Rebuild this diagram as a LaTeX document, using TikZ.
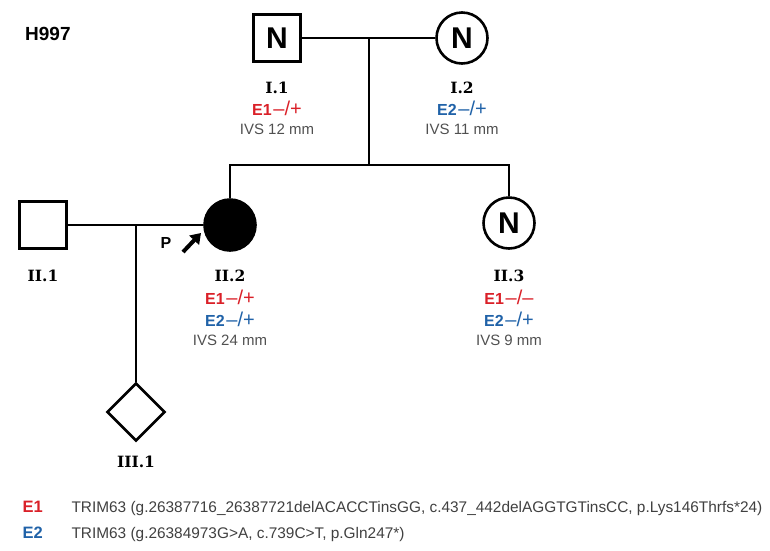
\documentclass[tikz,border=0pt]{standalone}
\usepackage{fontspec}
\setmainfont{Liberation Sans}
\newfontfamily\idfont{DejaVu Serif}
\usetikzlibrary{shapes.geometric,arrows.meta}
\definecolor{eone}{RGB}{218,32,40}
\definecolor{etwo}{RGB}{32,98,168}
\definecolor{ivsgray}{RGB}{80,80,80}
% genotype: bold variant key followed by the allele pair
\newcommand{\gtype}[2]{{\bfseries\fontsize{16}{16}\selectfont #1}\,{\fontsize{20}{20}\selectfont #2}}
\begin{document}
\begin{tikzpicture}[x=1pt,y=-1pt,
  line/.style={line width=2.6pt},
  male/.style={draw,rectangle,line width=3pt,minimum size=47pt,inner sep=0pt,
    font=\bfseries\fontsize{30}{30}\selectfont},
  female/.style={draw,circle,line width=2.6pt,minimum size=51pt,inner sep=0pt,
    font=\bfseries\fontsize{30}{30}\selectfont},
  unknown/.style={draw,diamond,line width=2.6pt,minimum size=58pt,inner sep=0pt},
  idlabel/.style={font=\idfont\bfseries\fontsize{15.5}{15.5}\selectfont},
  geno/.style={inner sep=1pt},
  ivs/.style={text=ivsgray,font=\fontsize{15}{15}\selectfont},
  legend/.style={anchor=base west,font=\fontsize{15.4}{15.4}\selectfont,text=black!75},
  legendkey/.style={anchor=base west,font=\bfseries\fontsize{16.5}{16.5}\selectfont}]
\useasboundingbox (0,0) rectangle (770,550);

% family title
\node[anchor=base west,inner sep=0pt,font=\bfseries\fontsize{19}{19}\selectfont] (title) at (25,40) {H997};

% generation I
\node[male] (I1) at (277,38) {N};
\node[female] (I2) at (462,38) {N};
\coordinate (m1) at (369,38);
\coordinate (s1) at (369,165);
\draw[line] (I1.east) -- (I2.west);
\draw[line] (m1) -- (s1);

\node[idlabel] (I1id) at (277,88) {I.1};
\node[geno,text=eone] (I1g) at (277,108) {\gtype{E1}{–/+}};
\node[ivs] (I1v) at (277,129) {IVS 12 mm};
\node[idlabel] (I2id) at (462,88) {I.2};
\node[geno,text=etwo] (I2g) at (462,108) {\gtype{E2}{–/+}};
\node[ivs] (I2v) at (462,129) {IVS 11 mm};

% generation II
\node[male,line width=2.3pt] (II1) at (43,225) {};
\node[female,fill=black] (II2) at (230,225) {};
\node[female] (II3) at (509,223) {N};
\coordinate (sl) at (230,165);
\coordinate (sr) at (509,165);
\draw[line] (II2.north) -- (sl) -- (sr) -- (II3.north);
\draw[line] (II1.east) -- (II2.west);

% proband marker
\node[font=\bfseries\fontsize{16}{16}\selectfont] (P) at (166,243) {P};
\coordinate (pa) at (183,252);
\coordinate (pb) at (201,233);
\draw[line width=4pt,-{Triangle[length=10pt,width=13pt]}] (pa) -- (pb);

\node[idlabel] (II1id) at (43,276) {II.1};
\node[idlabel] (II2id) at (230,276) {II.2};
\node[geno,text=eone] (II2g1) at (230,297) {\gtype{E1}{–/+}};
\node[geno,text=etwo] (II2g2) at (230,319) {\gtype{E2}{–/+}};
\node[ivs] (II2v) at (230,340) {IVS 24 mm};
\node[idlabel] (II3id) at (509,276) {II.3};
\node[geno,text=eone] (II3g1) at (509,297) {\gtype{E1}{–/–}};
\node[geno,text=etwo] (II3g2) at (509,319) {\gtype{E2}{–/+}};
\node[ivs] (II3v) at (509,340) {IVS 9 mm};

% generation III
\coordinate (m2) at (136,225);
\node[unknown] (III1) at (136,412) {};
\draw[line] (m2) -- (III1.north);
\node[idlabel] (III1id) at (136,462) {III.1};

% variant legend
\node[legendkey,text=eone] (k1) at (19,512) {E1};
\node[legend] (l1) at (68,512) {TRIM63 (g.26387716\_26387721delACACCTinsGG, c.437\_442delAGGTGTinsCC, p.Lys146Thrfs*24)};
\node[legendkey,text=etwo] (k2) at (19,538) {E2};
\node[legend] (l2) at (68,538) {TRIM63 (g.26384973G>A, c.739C>T, p.Gln247*)};
\end{tikzpicture}
\end{document}
